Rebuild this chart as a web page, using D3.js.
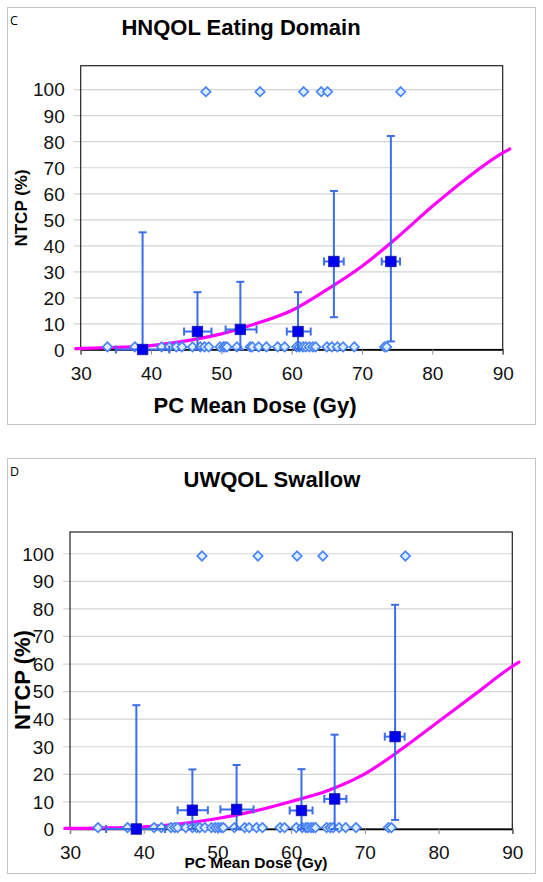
<!DOCTYPE html>
<html><head><meta charset="utf-8">
<script src="https://cdn.jsdelivr.net/npm/d3@7"></script>
<style>
html,body{margin:0;padding:0;background:#fff;}
svg{display:block;}
</style></head>
<body>
<svg id="chart" width="543" height="882"></svg>
<script>
// ---------- DATA ----------
const xTicks = [30, 40, 50, 60, 70, 80, 90];
const yTicks = [0, 10, 20, 30, 40, 50, 60, 70, 80, 90, 100];

// Panel C: HNQOL Eating Domain
const cTitle = "HNQOL Eating Domain";
const cLowDose = [33.8, 37.7, 41.5, 42.6, 43.6, 44.4, 45.9, 47.0, 47.6, 48.2, 49.8, 50.3, 50.5, 50.8, 52.2, 54.1, 54.4, 55.3, 56.4, 58.0, 59.0, 60.7, 61.1, 61.6, 62.0, 62.5, 63.0, 63.4, 65.0, 65.7, 66.5, 67.3, 68.9, 73.2, 73.5];
const cLowNtcp = 1;
const cHighDose = [47.8, 55.5, 61.7, 64.2, 65.1, 75.5];
const cHighNtcp = 99;
const cBinDose = [38.8, 46.6, 52.7, 60.9, 66.0, 74.1];
const cBinNtcp = [0, 6.9, 7.7, 6.9, 33.8, 33.8];
const cBinLo = [0, 0, 0, 0, 12.4, 3.1];
const cBinHi = [45, 22, 26, 22, 60.9, 82];
const cBinXLo = [35.0, 44.7, 50.6, 59.3, 64.6, 72.8];
const cBinXHi = [42.6, 48.6, 55.0, 62.7, 67.4, 75.4];
const cCurveDose = [29.3, 30, 35, 40, 45, 50, 55, 60, 65, 70, 75, 80, 85, 90, 91];
const cCurveNtcp = [0.3, 0.4, 0.8, 1.5, 3.3, 6.0, 10.0, 15.0, 23.0, 32.0, 43.0, 55.0, 66.0, 75.5, 77.0];

// Panel D: UWQOL Swallow
const dTitle = "UWQOL Swallow";
const dLowDose = [33.8, 37.8, 41.4, 42.4, 43.7, 44.2, 44.6, 45.7, 46.6, 47.2, 47.6, 48.3, 49.2, 49.7, 50.1, 50.5, 50.8, 52.3, 53.7, 54.3, 55.3, 56.1, 58.5, 59.1, 60.7, 61.5, 62.0, 62.3, 62.7, 63.0, 63.3, 64.8, 65.3, 65.7, 66.5, 67.4, 68.8, 73.2, 73.6];
const dLowNtcp = 0.5;
const dHighDose = [47.9, 55.5, 60.8, 64.3, 75.5];
const dHighNtcp = 99;
const dBinDose = [39.0, 46.6, 52.6, 61.4, 65.9, 74.1];
const dBinNtcp = [0, 6.8, 7.1, 6.7, 10.9, 33.5];
const dBinLo = [0, 0, 0, 0, 0, 3.3];
const dBinHi = [44.9, 21.6, 23.2, 21.7, 34.2, 81.3];
const dBinXLo = [34.9, 44.6, 50.4, 59.8, 64.5, 72.7];
const dBinXHi = [42.9, 48.7, 54.9, 62.9, 67.5, 75.4];
const dCurveDose = [29.3, 30, 35, 40, 45, 50, 55, 60, 65, 70, 75, 80, 85, 90, 90.9];
const dCurveNtcp = [0.2, 0.2, 0.4, 0.8, 1.9, 3.8, 6.5, 10.0, 14.0, 20.0, 29.0, 39.0, 49.0, 59.0, 60.5];

// ---------- DRAW ----------
const svg = d3.select("#chart");
const FONT = "'Liberation Sans', Arial, sans-serif";

function panel(cfg) {
  const g = svg.append("g");
  // outer frame
  g.append("rect").attr("x", cfg.frame[0] + 0.5).attr("y", cfg.frame[1] + 0.5)
    .attr("width", cfg.frame[2] - cfg.frame[0]).attr("height", cfg.frame[3] - cfg.frame[1])
    .attr("fill", "#fff").attr("stroke", "#c4c4c4").attr("stroke-width", 1);

  const x = d3.scaleLinear().domain([30, 90]).range([cfg.left, cfg.right]);
  const y = d3.scaleLinear().domain([0, cfg.ymax]).range([cfg.bottom, cfg.top]);

  // panel letter
  g.append("text").attr("x", cfg.letterPos[0]).attr("y", cfg.letterPos[1])
    .attr("font-family", "'Open Sans', 'DejaVu Sans', sans-serif").attr("font-size", 12.5)
    .text(cfg.letter);
  // title
  g.append("text").attr("x", cfg.titlePos[0]).attr("y", cfg.titlePos[1])
    .attr("text-anchor", "middle").attr("font-family", FONT).attr("font-weight", "bold")
    .attr("font-size", 22).text(cfg.title);

  // gridlines with left ticks
  const yAxis = d3.axisLeft(y).tickValues(yTicks).tickSize(cfg.right - cfg.left + 7).tickPadding(9)
    .tickFormat(d3.format("d"));
  const ya = g.append("g").attr("transform", `translate(${cfg.right},0)`).call(yAxis);
  ya.select(".domain").remove();
  ya.selectAll(".tick line").attr("stroke", "#d4d4d4").attr("stroke-width", 1.2);
  ya.selectAll(".tick text").attr("font-family", FONT).attr("font-size", 19).attr("fill", "#111")
    .attr("dy", "0.36em");

  // plot border
  g.append("rect").attr("x", cfg.left).attr("y", cfg.top)
    .attr("width", cfg.right - cfg.left).attr("height", cfg.bottom - cfg.top)
    .attr("fill", "none").attr("stroke", "#222").attr("stroke-width", 1.2);

  // x axis
  const xAxis = d3.axisBottom(x).tickValues(xTicks).tickSize(5).tickPadding(cfg.xPad)
    .tickFormat(d3.format("d"));
  const xa = g.append("g").attr("transform", `translate(0,${cfg.bottom})`).call(xAxis);
  xa.select(".domain").attr("stroke", "#000").attr("stroke-width", 1.3);
  xa.selectAll(".tick line").attr("stroke", "#888");
  xa.selectAll(".tick text").attr("font-family", FONT).attr("font-size", 19).attr("fill", "#111");

  // axis titles
  g.append("text").attr("x", cfg.xTitlePos[0]).attr("y", cfg.xTitlePos[1])
    .attr("text-anchor", "middle").attr("font-family", FONT).attr("font-weight", "bold")
    .attr("font-size", cfg.xTitleSize).text("PC Mean Dose (Gy)");
  g.append("text").attr("transform", `translate(${cfg.yTitlePos[0]},${cfg.yTitlePos[1]}) rotate(-90)`)
    .attr("text-anchor", "middle").attr("font-family", FONT).attr("font-weight", "bold")
    .attr("font-size", cfg.yTitleSize).text("NTCP (%)");

  // NTCP curve
  const curvePts = cfg.curveDose.map((d, i) => [d, cfg.curveNtcp[i]]);
  g.append("path").datum(curvePts)
    .attr("d", d3.line().x(d => x(d[0])).y(d => y(d[1])).curve(d3.curveMonotoneX))
    .attr("fill", "none").attr("stroke", "#ff00ff").attr("stroke-width", 3.2)
    .attr("stroke-linecap", "round");

  // individual patients (diamonds)
  const diamond = d3.symbol().type(d3.symbolDiamond2).size(56);
  const pts = cfg.lowDose.map(d => [d, cfg.lowNtcp]).concat(cfg.highDose.map(d => [d, cfg.highNtcp]));
  g.append("g").selectAll("path").data(pts).join("path")
    .attr("d", diamond).attr("transform", d => `translate(${x(d[0])},${y(d[1])})`)
    .attr("fill", "#dcefff").attr("stroke", "#4a84f8").attr("stroke-width", 1.7);

  // error bars
  const eb = g.append("g").attr("stroke", "#3a6ee8").attr("stroke-width", 2).attr("fill", "none");
  const cap = 4;
  cfg.binDose.forEach((d, i) => {
    const cx = x(d), cy = y(cfg.binNtcp[i]);
    const yl = y(cfg.binLo[i]), yh = y(cfg.binHi[i]);
    eb.append("line").attr("x1", cx).attr("x2", cx).attr("y1", yl).attr("y2", yh);
    eb.append("line").attr("x1", cx - cap).attr("x2", cx + cap).attr("y1", yh).attr("y2", yh);
    eb.append("line").attr("x1", cx - cap).attr("x2", cx + cap).attr("y1", yl).attr("y2", yl);
    const xl = x(cfg.binXLo[i]), xh = x(cfg.binXHi[i]);
    eb.append("line").attr("x1", xl).attr("x2", xh).attr("y1", cy).attr("y2", cy);
    eb.append("line").attr("x1", xl).attr("x2", xl).attr("y1", cy - cap).attr("y2", cy + cap);
    eb.append("line").attr("x1", xh).attr("x2", xh).attr("y1", cy - cap).attr("y2", cy + cap);
  });

  // binned squares
  const sq = 10.5;
  g.append("g").selectAll("rect").data(cfg.binDose.map((d, i) => [d, cfg.binNtcp[i]])).join("rect")
    .attr("x", d => x(d[0]) - sq / 2).attr("y", d => y(d[1]) - sq / 2)
    .attr("width", sq).attr("height", sq)
    .attr("fill", "#0000ee").attr("stroke", "#1a1aa0").attr("stroke-width", 0.8);
}

panel({
  letter: "C", title: cTitle,
  frame: [7, 7, 535, 424],
  left: 80.7, right: 502.7, top: 65.7, bottom: 349.5, ymax: 109,
  letterPos: [10, 25], titlePos: [241, 35],
  xPad: 12, xTitlePos: [255, 413], xTitleSize: 22,
  yTitlePos: [27, 208], yTitleSize: 17,
  lowDose: cLowDose, lowNtcp: cLowNtcp, highDose: cHighDose, highNtcp: cHighNtcp,
  binDose: cBinDose, binNtcp: cBinNtcp, binLo: cBinLo, binHi: cBinHi, binXLo: cBinXLo, binXHi: cBinXHi,
  curveDose: cCurveDose, curveNtcp: cCurveNtcp
});

panel({
  letter: "D", title: dTitle,
  frame: [7, 458, 535, 873],
  left: 70, right: 512.3, top: 532, bottom: 829, ymax: 107.7,
  letterPos: [10, 476], titlePos: [272, 487],
  xPad: 12, xTitlePos: [256, 868], xTitleSize: 15.5,
  yTitlePos: [30, 680], yTitleSize: 22,
  lowDose: dLowDose, lowNtcp: dLowNtcp, highDose: dHighDose, highNtcp: dHighNtcp,
  binDose: dBinDose, binNtcp: dBinNtcp, binLo: dBinLo, binHi: dBinHi, binXLo: dBinXLo, binXHi: dBinXHi,
  curveDose: dCurveDose, curveNtcp: dCurveNtcp
});
</script>
</body></html>
